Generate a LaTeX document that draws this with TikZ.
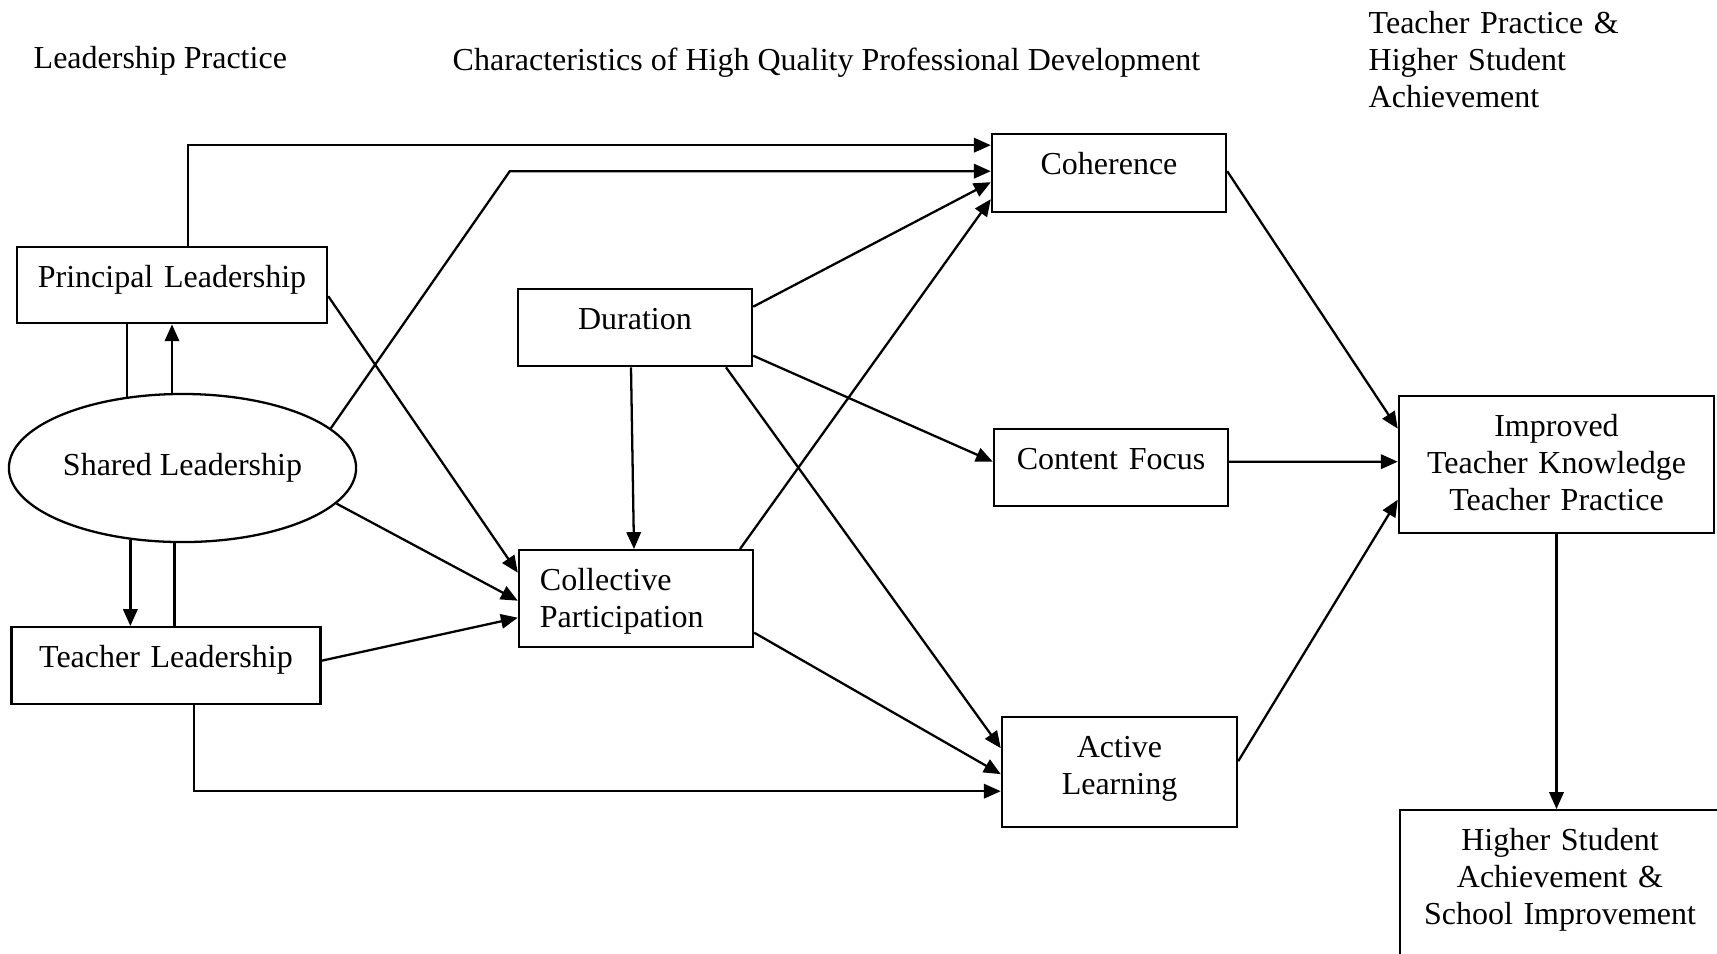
\documentclass[tikz,border=0pt]{standalone}
\usepackage{fontspec}
\setmainfont{Liberation Serif}
\usepackage{tikz}
\usetikzlibrary{shapes.geometric}
\usetikzlibrary{calc}
\usetikzlibrary{arrows.meta}
\tikzset{pdbox/.style={draw, line width=0.65pt, anchor=north, inner ysep=0pt, inner xsep=0pt, align=center, text width=#1, text height=0.4cm}}
\tikzset{arr/.style={-{Triangle[length=4.8pt,width=4.1pt]}, line width=0.65pt}}
\tikzset{ln/.style={line width=0.65pt}}
\tikzset{hd/.style={anchor=base west, inner sep=0pt}}

\begin{document}
\begin{tikzpicture}[x=0.01cm, y=-0.01cm, font=\fontsize{9.1pt}{10.6pt}\selectfont]
\useasboundingbox (0,0) rectangle (1717,953);
\clip (0,0) rectangle (1717,953);

% column headings
\node[hd] (h1) at (33,68) {Leadership Practice};
\node[hd] (h2) at (452,70) {Characteristics of High Quality Professional Development};
\node[hd, text width=4cm, align=left] (h3) at (1368,33) {Teacher Practice \&\\Higher Student\\Achievement};

% leadership
\node[pdbox=3.10cm, text depth=0.36cm] (prin) at (172,246) {Principal Leadership};
\node[ellipse, draw, line width=0.65pt, minimum width=3.47cm, minimum height=1.48cm, inner sep=0pt] (shr) at (182.5,468) {Shared Leadership};
\node[pdbox=3.09cm, text depth=0.37cm] (teach) at (166,626) {Teacher Leadership};

% characteristics
\node[pdbox=2.34cm, text depth=0.37cm] (dur) at (635,288) {Duration};
\node[pdbox=1.92cm, align=left, inner xsep=0.21cm, text depth=0.57cm] (coll) at (636,549) {Collective\\Participation};
\node[pdbox=2.34cm, text depth=0.38cm] (coh) at (1109,133) {Coherence};
\node[pdbox=2.34cm, text depth=0.37cm] (cont) at (1111,428) {Content Focus};
\node[pdbox=2.35cm, text depth=0.70cm] (act) at (1119.5,716) {Active\\Learning};

% outcomes
\node[pdbox=3.15cm, text depth=0.97cm] (impr) at (1556.5,395) {Improved\\Teacher Knowledge\\Teacher Practice};
\node[pdbox=3.20cm, text depth=1.10cm] (high) at (1560,809) {Higher Student\\Achievement \&\\School Improvement};

% principal <-> shared <-> teacher
\draw[ln] (shr.128) -- (shr.128 |- prin.south);
\draw[arr] (shr.north -| prin.south) -- (prin.south);
\draw[arr] (shr.-126) -- (shr.-126 |- teach.north);
\draw[ln] (shr.-96) -- (shr.-96 |- teach.north);

% into coherence
\draw[arr] ($(prin.north)+(16,0)$) |- ($(coh.west)+(0,-28)$);
\draw[arr] (shr.15) -- ($(coh.west)+(-481,-2)$) -- ($(coh.west)+(0,-2)$);
\draw[arr] ($(dur.east)+(0,-21)$) -- ($(coh.west)+(0,9)$);
\draw[arr] ($(coll.north)+(104,0)$) -- ($(coh.west)+(0,26)$);

% into collective participation
\draw[arr] ($(prin.east)+(0,11)$) -- ($(coll.west)+(0,-26)$);
\draw[arr] (shr.-13) -- ($(coll.west)+(0,2)$);
\draw[arr] ($(teach.east)+(0,-5)$) -- ($(coll.west)+(0,19)$);
\draw[arr] ($(dur.south)+(-4,0)$) -- ($(coll.north)+(-2,0)$);

% into content focus and active learning
\draw[arr] ($(dur.east)+(0,28)$) -- ($(cont.west)+(0,-6)$);
\draw[arr] ($(dur.south)+(91,0)$) -- ($(act.west)+(0,-24)$);
\draw[arr] ($(coll.east)+(0,34)$) -- ($(act.west)+(0,2)$);
\draw[arr] ($(teach.south)+(28,0)$) |- ($(act.west)+(0,19)$);

% outcomes
\draw[arr] ($(coh.east)+(0,-2)$) -- ($(impr.west)+(0,-36)$);
\draw[arr] ($(cont.east)+(0,-6)$) -- ($(impr.west)+(0,-3)$);
\draw[arr] ($(act.east)+(0,-11)$) -- ($(impr.west)+(0,35)$);
\draw[arr] (impr.south) -- (impr.south |- high.north);

\end{tikzpicture}
\end{document}
